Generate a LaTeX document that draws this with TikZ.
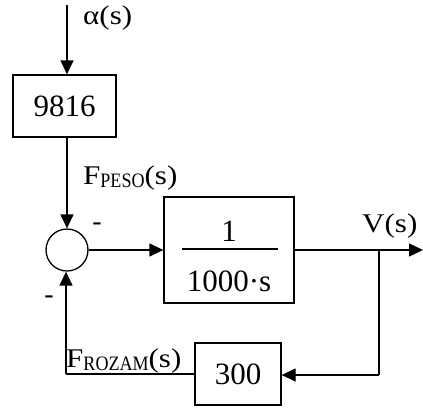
\documentclass[tikz,border=0pt]{standalone}
\usepackage{fontspec}
\setmainfont{Liberation Serif}
\usetikzlibrary{arrows.meta}
\tikzset{
  x=1pt,y=-1pt,
  wire/.style={line width=1.3pt},
  arr/.style={wire,-{Triangle[length=14pt,width=13pt]}},
  blk/.style={draw,line width=1.3pt,rectangle,inner sep=0pt,font=\fontsize{31}{31}\selectfont},
  lbl/.style={font=\fontsize{27}{27}\selectfont,inner sep=0pt},
  sgn/.style={font=\fontsize{28}{28}\selectfont,inner sep=0pt},
}
\newcommand{\subsc}[1]{\raisebox{-3pt}{\scalebox{0.88}[1]{\fontsize{20.5}{20.5}\selectfont #1}}}
\newcommand{\wide}[1]{\scalebox{1.15}[1]{#1}}
\begin{document}
\begin{tikzpicture}
\useasboundingbox (0,0) rectangle (423,407);
\coordinate (top) at (67,5);
\node[blk,minimum width=103pt,minimum height=62pt] (b1) at (64.5,106) {9816};
\node[draw,line width=1.3pt,circle,minimum size=42pt,inner sep=0pt] (sum) at (67,250) {};
\node[blk,minimum width=130pt,minimum height=106pt] (b2) at (229,250) {};
\node[font=\fontsize{31}{31}\selectfont,inner sep=0pt] (num) at (229,231) {1};
\node[font=\fontsize{31}{31}\selectfont,inner sep=0pt] (den) at (229,281) {1000·s};
\coordinate (fl) at (182,249);
\coordinate (fr) at (278,249);
\draw[wire] (fl) -- (fr);
\node[blk,minimum width=86pt,minimum height=62pt] (b3) at (238,374) {300};
\coordinate (br) at (379,250);
\coordinate (out) at (423,250);
\coordinate (fb) at (379,375);
\coordinate (fbl) at (66,374);

\draw[arr] (top) -- (top |- b1.north);
\draw[arr] (b1.south -| top) -- (sum.north);
\draw[arr] (sum.east) -- (b2.west);
\draw[wire] (b2.east) -- (br);
\draw[arr] (br) -- (out);
\draw[wire] (br) -- (fb);
\draw[arr] (fb) -- (b3.east |- fb);
\draw[wire] (b3.west) -- (fbl);
\draw[arr] (fbl) -- (sum.south -| fbl);

\node[lbl,anchor=west] (la) at (83,18) {\wide{α(s)}};
\node[lbl,anchor=west] (lp) at (83,178) {\wide{F}\subsc{PESO}\wide{(s)}};
\node[lbl,anchor=west] (lv) at (362,226) {\wide{V(s)}};
\node[lbl,anchor=base west] (lr) at (66,367) {\wide{F}\subsc{ROZAM}\wide{(s)}};
\node[sgn] (m1) at (97,227) {-};
\node[sgn] (m2) at (49,300) {-};
\end{tikzpicture}
\end{document}
